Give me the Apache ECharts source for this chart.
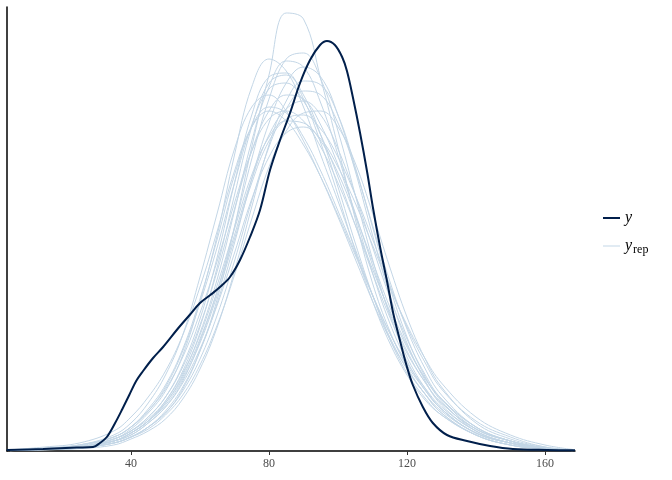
<!DOCTYPE html>
<html>
<head>
<meta charset="utf-8">
<script src="https://cdn.jsdelivr.net/npm/echarts@6/dist/echarts.min.js"></script>
<style>html,body{margin:0;padding:0;background:#fff}#c{width:672px;height:480px}</style>
</head>
<body>
<div id="c"></div>
<script>
// observed y density: [x, density]
const yObs = [[4,0.00005],[14.5,0.0001],[24.3,0.00017],[29,0.0002],[31,0.0004],[33,0.0007],[35.4,0.0014],[37.5,0.0021],[39.5,0.0028],[41.5,0.0035],[43.5,0.0040],[46.4,0.00465],[49.3,0.0052],[53.5,0.0061],[57,0.0068],[60,0.0074],[63,0.0078],[65.8,0.0082],[68.7,0.0087],[71.6,0.00955],[74.5,0.0107],[77.4,0.01205],[80.3,0.01405],[83.2,0.01555],[86.1,0.0169],[89,0.0184],[91.9,0.01955],[94.8,0.0203],[96.8,0.0205],[99.1,0.0203],[101.2,0.0197],[102.6,0.0190],[104.3,0.0177],[106.4,0.0159],[108.5,0.0139],[110.1,0.0122],[112.2,0.0102],[114.2,0.0085],[116,0.0069],[118,0.0055],[120,0.0042],[121.7,0.0033],[124.6,0.0022],[127.5,0.0014],[131.6,0.0008],[137.4,0.0005],[144.1,0.00025],[150.7,0.0001],[160.6,0.00005],[168.7,0.00004]];

// x grid for replicated densities
const xGrid = [5,15,25,35,40,45,50,55,60,65,70,75,80,85,90,95,100,105,110,115,120,125,130,140,150,160,168];

const rep01 = [.00002,.00008,.00015,.0004,.0007,.0012,.0019,.0031,.0050,.0076,.0112,.0152,.0188,.0219,.0216,.0186,.0152,.0116,.0084,.0060,.0042,.0029,.0019,.0008,.0003,.0001,.00002];
const rep02 = [.00003,.0001,.0002,.0006,.0011,.0019,.0030,.0048,.0075,.0108,.0148,.0182,.0196,.0190,.0172,.0148,.0125,.0101,.0078,.0057,.0041,.0029,.0019,.0008,.0003,.0001,.00002];
const rep03 = [.00002,.00008,.00018,.0005,.0008,.0014,.0022,.0035,.0055,.0080,.0112,.0146,.0176,.0196,.0199,.0186,.0160,.0128,.0096,.0068,.0047,.0032,.0021,.0009,.0004,.00012,.00003];
const rep04 = [.00003,.0001,.0002,.0005,.0009,.0015,.0024,.0038,.0059,.0086,.0120,.0155,.0182,.0195,.0192,.0174,.0148,.0118,.0089,.0064,.0045,.0031,.0021,.0009,.0004,.00012,.00003];
const rep05 = [.00002,.00008,.00016,.0004,.0007,.0012,.0020,.0032,.0050,.0074,.0104,.0136,.0164,.0184,.0192,.0187,.0168,.0140,.0108,.0078,.0054,.0036,.0023,.0010,.0004,.00012,.00003];
const rep06 = [.00004,.00012,.0003,.0007,.0012,.0020,.0032,.0050,.0074,.0102,.0134,.0163,.0181,.0184,.0175,.0158,.0137,.0113,.0089,.0067,.0049,.0035,.0024,.0011,.0005,.00015,.00004];
const rep07 = [.00002,.00007,.00015,.0004,.0007,.0012,.0019,.0030,.0046,.0068,.0095,.0125,.0152,.0171,.0180,.0178,.0164,.0141,.0113,.0085,.0061,.0042,.0028,.0012,.0005,.00015,.00004];
const rep08 = [.00003,.0001,.0002,.0006,.0010,.0017,.0027,.0042,.0063,.0090,.0121,.0150,.0170,.0178,.0176,.0163,.0143,.0119,.0093,.0069,.0050,.0035,.0024,.0011,.0005,.00015,.00003];
const rep09 = [.00003,.0001,.0002,.0005,.0009,.0015,.0024,.0037,.0056,.0080,.0108,.0136,.0158,.0171,.0175,.0168,.0151,.0128,.0102,.0077,.0056,.0039,.0026,.0011,.0005,.00015,.00003];
const rep10 = [.00005,.00015,.0003,.0008,.0014,.0024,.0038,.0058,.0087,.0119,.0151,.0172,.0178,.0170,.0155,.0137,.0117,.0096,.0075,.0056,.0041,.0029,.0020,.0009,.0004,.00012,.00003];
const rep11 = [.00002,.00006,.00014,.0004,.0007,.0011,.0018,.0028,.0043,.0063,.0088,.0116,.0142,.0160,.0169,.0170,.0162,.0144,.0119,.0092,.0067,.0047,.0032,.0014,.0006,.0002,.00005];
const rep12 = [.00004,.00012,.0003,.0007,.0012,.0020,.0031,.0047,.0069,.0095,.0124,.0150,.0166,.0170,.0165,.0152,.0134,.0113,.0091,.0070,.0052,.0037,.0026,.0012,.0005,.00015,.00004];
const rep13 = [.00003,.0001,.0002,.0006,.0010,.0016,.0025,.0039,.0058,.0083,.0111,.0138,.0157,.0165,.0164,.0155,.0139,.0118,.0095,.0072,.0053,.0037,.0026,.0012,.0005,.00015,.00004];
const rep14 = [.00004,.00012,.00025,.0007,.0012,.0021,.0033,.0051,.0076,.0106,.0138,.0162,.0172,.0169,.0157,.0140,.0120,.0099,.0078,.0059,.0043,.0031,.0021,.0009,.0004,.00012,.00003];
const rep15 = [.00003,.0001,.0002,.0005,.0008,.0014,.0022,.0034,.0051,.0073,.0099,.0126,.0147,.0159,.0162,.0156,.0142,.0124,.0103,.0082,.0063,.0047,.0034,.0017,.0008,.0003,.00008];
const rep16 = [.00002,.00008,.00018,.0005,.0009,.0015,.0025,.0040,.0062,.0092,.0128,.0162,.0184,.0188,.0178,.0158,.0132,.0104,.0078,.0056,.0039,.0027,.0018,.0008,.0003,.0001,.00002];
const rep17 = [.00006,.0002,.0004,.0010,.0017,.0027,.0040,.0058,.0082,.0110,.0140,.0162,.0170,.0165,.0153,.0137,.0118,.0098,.0078,.0059,.0044,.0032,.0022,.0010,.0004,.00012,.00003];
const rep18 = [.00002,.00006,.00012,.0003,.0006,.0010,.0016,.0026,.0041,.0062,.0090,.0122,.0153,.0175,.0185,.0183,.0168,.0142,.0112,.0082,.0057,.0038,.0025,.0010,.0004,.0001,.00003];
const rep19 = [.00003,.0001,.0002,.0005,.0009,.0015,.0023,.0036,.0054,.0078,.0106,.0134,.0155,.0166,.0168,.0161,.0147,.0128,.0106,.0083,.0062,.0045,.0031,.0015,.0007,.0002,.00005];
const rep20 = [.00003,.0001,.0002,.0006,.0010,.0017,.0027,.0043,.0066,.0097,.0134,.0168,.0187,.0189,.0176,.0154,.0128,.0100,.0075,.0054,.0038,.0026,.0018,.0008,.0003,.0001,.00002];

const reps = [rep01,rep02,rep03,rep04,rep05,rep06,rep07,rep08,rep09,rep10,rep11,rep12,rep13,rep14,rep15,rep16,rep17,rep18,rep19,rep20];
const xTicks = [40, 80, 120, 160];

const series = reps.map(r => ({
  type: 'line', name: 'yrep', smooth: 0.4, symbol: 'none',
  data: xGrid.map((x, i) => [x, r[i]]),
  lineStyle: { color: '#c3d6e6', width: 1 },
  itemStyle: { color: '#c3d6e6' },
  z: 2
}));
series.push({
  type: 'line', name: 'y', smooth: 0.35, symbol: 'none',
  data: yObs,
  lineStyle: { color: '#011f4b', width: 2 },
  itemStyle: { color: '#011f4b' },
  z: 5
});

const chart = echarts.init(document.getElementById('c'));
chart.setOption({
  animation: false,
  backgroundColor: '#fff',
  grid: { left: 7, right: 97, top: 7, bottom: 29, containLabel: false },
  xAxis: {
    type: 'value', min: 4.06, max: 168.7,
    splitLine: { show: false },
    axisLine: { lineStyle: { color: '#000', width: 1.5 } },
    axisTick: { customValues: xTicks, length: 4, lineStyle: { color: '#333' } },
    axisLabel: { customValues: xTicks, color: '#4d4d4d', fontFamily: 'Liberation Serif', fontSize: 12, margin: 7 }
  },
  yAxis: {
    type: 'value', min: 0, max: 0.0222,
    splitLine: { show: false },
    axisLine: { show: true, lineStyle: { color: '#000', width: 1.5 } },
    axisTick: { show: false },
    axisLabel: { show: false }
  },
  legend: {
    orient: 'vertical', left: 598, top: 205, itemWidth: 17, itemHeight: 14, itemGap: 12,
    icon: 'path://M0,6.5H17V7.5H0Z',
    data: [
      { name: 'y', icon: 'path://M0,6H17V8H0Z', itemStyle: { color: '#011f4b' } },
      { name: 'yrep', icon: 'path://M0,6.5H17V7.5H0Z', itemStyle: { color: '#c3d6e6' } }
    ],
    formatter: n => n === 'y' ? '{i|y}' : '{i|y}{s|rep}',
    textStyle: {
      color: '#000', fontFamily: 'Liberation Serif', fontSize: 16,
      rich: {
        i: { fontStyle: 'italic', fontFamily: 'Liberation Serif', fontSize: 16, color: '#000' },
        s: { fontFamily: 'Liberation Serif', fontSize: 12, color: '#000', padding: [7, 0, 0, 1] }
      }
    }
  },
  series: series
});
</script>
</body>
</html>
